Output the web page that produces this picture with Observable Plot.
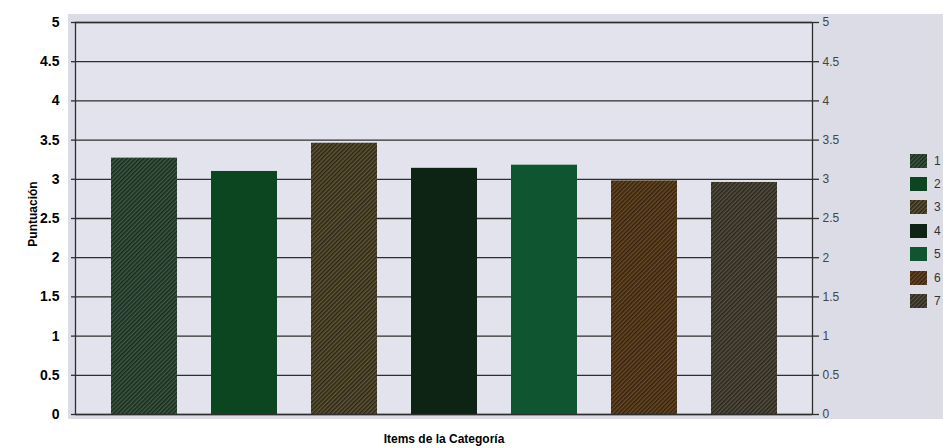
<!DOCTYPE html>
<html>
<head>
<meta charset="utf-8">
<script src="https://cdn.jsdelivr.net/npm/d3@7"></script>
<script src="https://cdn.jsdelivr.net/npm/@observablehq/plot@0.6"></script>
<style>
  html, body { margin: 0; padding: 0; background: #ffffff; }
  #wrap { position: relative; width: 943px; height: 448px; overflow: hidden; font-family: "Liberation Sans", Arial, sans-serif; }
  #bg { position: absolute; left: 68px; top: 14px; width: 875px; height: 405px; background: #dcdce6; }
  #chart { position: absolute; left: 0; top: 0; }
  #chart svg { background: transparent !important; }
  #ylabel { position: absolute; left: 33px; top: 214px; transform: translate(-50%, -50%) rotate(-90deg); font-weight: bold; font-size: 12px; color: #000; white-space: nowrap; }
  #xlabel { position: absolute; left: 444px; top: 439px; transform: translate(-50%, -50%); font-weight: bold; font-size: 12px; color: #000; white-space: nowrap; }
  #legend { position: absolute; left: 910px; top: 153px; }
  .li { position: absolute; left: 0; height: 15px; display: flex; align-items: center; font-size: 12px; color: #333; white-space: nowrap; }
  .li svg { display: block; margin-right: 7px; }
</style>
</head>
<body>
<svg width="0" height="0" style="position:absolute">
  <defs>
    <pattern id="h1" width="3" height="3" patternUnits="userSpaceOnUse" patternTransform="rotate(45)">
      <rect width="3" height="3" fill="#3e5a44"/><rect width="1.5" height="3" fill="#182a1c"/>
    </pattern>
    <pattern id="h3" width="3" height="3" patternUnits="userSpaceOnUse" patternTransform="rotate(45)">
      <rect width="3" height="3" fill="#625636"/><rect width="1.5" height="3" fill="#2a2616"/>
    </pattern>
    <pattern id="h6" width="3" height="3" patternUnits="userSpaceOnUse" patternTransform="rotate(45)">
      <rect width="3" height="3" fill="#6a4a26"/><rect width="1.5" height="3" fill="#34220e"/>
    </pattern>
    <pattern id="h7" width="3" height="3" patternUnits="userSpaceOnUse" patternTransform="rotate(45)">
      <rect width="3" height="3" fill="#585040"/><rect width="1.5" height="3" fill="#28261e"/>
    </pattern>
  </defs>
</svg>
<div id="wrap">
  <div id="bg"></div>
  <div id="chart"></div>
  <div id="ylabel">Puntuación</div>
  <div id="xlabel">Items de la Categoría</div>
  <div id="legend"></div>
</div>
<script>
// ---- data ----
const series = ["1", "2", "3", "4", "5", "6", "7"];
const values = [3.27, 3.10, 3.46, 3.14, 3.18, 2.98, 2.96];
const fills = ["url(#h1)", "#0c4620", "url(#h3)", "#0d2414", "#0f5630", "url(#h6)", "url(#h7)"];
const yTicks = [0, 0.5, 1, 1.5, 2, 2.5, 3, 3.5, 4, 4.5, 5];

const data = series.map((s, i) => ({serie: s, valor: values[i], fill: fills[i]}));

const chart = Plot.plot({
  width: 943,
  height: 448,
  marginLeft: 75,
  marginRight: 131,
  marginTop: 22,
  marginBottom: 34,
  style: {background: "transparent", fontFamily: "Liberation Sans, Arial, sans-serif"},
  x: {domain: series, padding: 0.34, axis: null},
  y: {domain: [0, 5], axis: null},
  marks: [
    Plot.frame({fill: "#e3e3ee", stroke: "none"}),
    Plot.gridY(yTicks, {stroke: "#2e2e2e", strokeOpacity: 1, strokeWidth: 1.3}),
    Plot.barY(data, {x: "serie", y: "valor", fill: d => d.fill}),
    Plot.frame({stroke: "#2e2e2e", strokeWidth: 1.3}),
    Plot.axisY(yTicks, {anchor: "left", label: null, tickSize: 4, tickPadding: 12, tickFormat: d => String(d),
      fontSize: 14, fontWeight: "bold", fill: "#000", stroke: "#2e2e2e", strokeWidth: 1.3}),
    Plot.axisY(yTicks, {anchor: "right", label: null, tickSize: 6, tickPadding: 4, tickFormat: d => String(d),
      fontSize: 12, fill: "#444", stroke: "#2e2e2e", strokeWidth: 1.3})
  ]
});
document.getElementById("chart").appendChild(chart);

// legend
const leg = document.getElementById("legend");
series.forEach((s, i) => {
  const row = document.createElement("div");
  row.className = "li";
  row.style.top = (i * 23.4) + "px";
  row.innerHTML = `<svg width="17" height="14"><rect width="17" height="14" fill="${fills[i]}"/></svg><span>${s}</span>`;
  leg.appendChild(row);
});
</script>
</body>
</html>
